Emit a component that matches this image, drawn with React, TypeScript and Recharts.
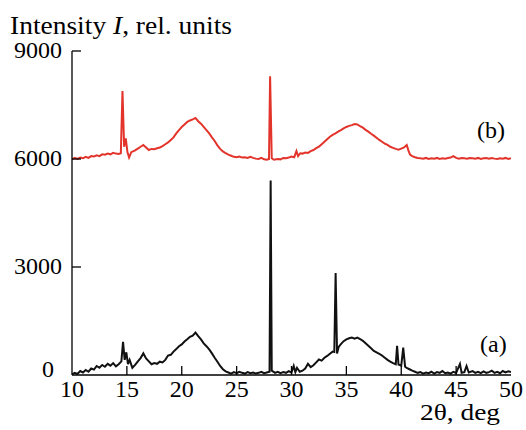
import { LineChart, Line, XAxis, YAxis } from 'recharts';

// pattern (a) – black, near zero
const twoThetaA = [
  10.0, 10.25, 10.5, 10.75, 11.0, 11.25, 11.5, 11.75, 12.0, 12.25, 12.5, 12.75, 13.0, 13.25, 13.5, 13.75,
  14.0, 14.25, 14.5, 14.65, 14.8, 14.95, 15.1, 15.25, 15.5, 15.75, 16.0, 16.25, 16.5, 16.75, 17.0, 17.25,
  17.5, 17.75, 18.0, 18.25, 18.5, 18.75, 19.0, 19.25, 19.5, 19.75, 20.0, 20.25, 20.5, 20.75, 21.0, 21.25,
  21.5, 21.75, 22.0, 22.25, 22.5, 22.75, 23.0, 23.25, 23.5, 23.75, 24.0, 24.25, 24.5, 24.75, 25.0, 25.25,
  25.5, 25.75, 26.0, 26.25, 26.5, 26.75, 27.0, 27.25, 27.5, 27.75, 28.0, 28.1, 28.2, 28.5, 28.75, 29.0,
  29.25, 29.5, 29.75, 30.0, 30.2, 30.35, 30.5, 30.75, 31.0, 31.25, 31.5, 31.75, 32.0, 32.25, 32.5, 32.75,
  33.0, 33.25, 33.5, 33.75, 33.9, 34.02, 34.15, 34.3, 34.5, 34.75, 35.0, 35.25, 35.5, 35.75, 36.0, 36.25,
  36.5, 36.75, 37.0, 37.25, 37.5, 37.75, 38.0, 38.25, 38.5, 38.75, 39.0, 39.25, 39.5, 39.62, 39.75, 40.0,
  40.18, 40.35, 40.5, 40.75, 41.0, 41.25, 41.5, 41.75, 42.0, 42.25, 42.5, 42.75, 43.0, 43.25, 43.5, 43.75,
  44.0, 44.25, 44.5, 44.75, 45.0, 45.35, 45.5, 45.75, 45.95, 46.15, 46.5, 46.75, 47.0, 47.25, 47.5, 47.75,
  48.0, 48.25, 48.5, 48.75, 49.0, 49.25, 49.5, 49.75, 50.0,
];
const intensityA = [
  20, 60, 30, 110, 70, 140, 90, 180, 150, 250, 200, 280, 230, 310, 260, 330,
  240, 300, 380, 920, 420, 630, 300, 420, 200, 280, 380, 470, 600, 460, 380, 300,
  330, 310, 370, 350, 420, 540, 560, 650, 720, 800, 850, 930, 990, 1060, 1090, 1180,
  1080, 990, 880, 800, 710, 600, 480, 370, 250, 160, 100, 70, 40, 80, 50, 90,
  60, 40, 80, 50, 70, 40, 60, 90, 50, 70, 90, 5400, 120, 60, 90, 50,
  80, 60, 110, 70, 250, 80, 200, 90, 120, 180, 310, 220, 270, 350, 430, 400,
  480, 530, 590, 650, 640, 2830, 600, 780, 860, 940, 990, 1020, 1040, 1010, 1040, 1000,
  950, 880, 810, 740, 670, 630, 590, 540, 480, 420, 370, 330, 300, 810, 290, 260,
  760, 230, 200, 160, 120, 90, 60, 80, 40, 70, 50, 90, 40, 80, 60, 110,
  50, 70, 40, 90, 60, 310, 60, 80, 250, 70, 110, 60, 90, 50, 100, 60,
  80, 120, 60, 90, 50, 110, 70, 100, 80,
];

// pattern (b) – red, around 6000
const twoThetaB = [
  10.0, 10.25, 10.5, 10.75, 11.0, 11.25, 11.5, 11.75, 12.0, 12.25, 12.5, 12.75, 13.0, 13.25, 13.5, 13.75,
  14.0, 14.25, 14.45, 14.6, 14.75, 14.9, 15.05, 15.2, 15.4, 15.75, 16.0, 16.25, 16.5, 16.75, 17.0, 17.25,
  17.5, 17.75, 18.0, 18.25, 18.5, 18.75, 19.0, 19.25, 19.5, 19.75, 20.0, 20.25, 20.5, 20.75, 21.0, 21.25,
  21.5, 21.75, 22.0, 22.25, 22.5, 22.75, 23.0, 23.25, 23.5, 23.75, 24.0, 24.25, 24.5, 24.75, 25.0, 25.25,
  25.5, 25.75, 26.0, 26.25, 26.5, 26.75, 27.0, 27.25, 27.5, 27.75, 27.95, 28.05, 28.2, 28.4, 28.75, 29.0,
  29.25, 29.5, 29.75, 30.0, 30.25, 30.45, 30.6, 30.8, 31.0, 31.25, 31.5, 31.75, 32.0, 32.25, 32.5, 32.75,
  33.0, 33.25, 33.5, 33.75, 34.0, 34.25, 34.5, 34.75, 35.0, 35.25, 35.5, 35.75, 36.0, 36.25, 36.5, 36.75,
  37.0, 37.25, 37.5, 37.75, 38.0, 38.25, 38.5, 38.75, 39.0, 39.25, 39.5, 39.75, 40.0, 40.25, 40.5, 40.65,
  40.8, 41.0, 41.25, 41.5, 41.75, 42.0, 42.25, 42.5, 42.75, 43.0, 43.25, 43.5, 43.75, 44.0, 44.25, 44.5,
  44.75, 45.0, 45.25, 45.5, 45.75, 46.0, 46.25, 46.5, 46.75, 47.0, 47.25, 47.5, 47.75, 48.0, 48.25, 48.5,
  48.75, 49.0, 49.25, 49.5, 49.75, 50.0,
];
const intensityB = [
  5990, 6030, 6000, 6040, 6020, 6060, 6030, 6080, 6070, 6100, 6080, 6130, 6120, 6150, 6130, 6170,
  6150, 6140, 6160, 7890, 6340, 6570, 6190, 6040, 6190, 6240, 6290, 6340, 6390, 6320, 6250, 6280,
  6270, 6300, 6320, 6360, 6410, 6460, 6530, 6600, 6710, 6800, 6890, 6960, 7030, 7070, 7100, 7140,
  7050, 6980, 6890, 6800, 6710, 6600, 6500, 6380, 6280, 6210, 6160, 6120, 6090, 6060, 6050, 6070,
  6040, 6050, 6030, 6060, 6030, 6010, 6000, 6030, 5990, 5980, 6000, 8300, 6020, 5980, 6000, 5990,
  6030, 6020, 6040, 6070, 6050, 6220, 6080, 6160, 6150, 6180, 6170, 6220, 6250, 6300, 6340, 6410,
  6480, 6550, 6620, 6670, 6710, 6760, 6800, 6850, 6890, 6920, 6940, 6970, 6960, 6910, 6870, 6810,
  6760, 6700, 6650, 6590, 6530, 6480, 6430, 6390, 6340, 6310, 6280, 6260, 6290, 6320, 6390, 6240,
  6120, 6080, 6050, 6030, 6020, 6010, 6030, 6000, 6020, 6010, 6030, 6000, 6020, 6010, 6030, 6040,
  6080, 6030, 6010, 6030, 6020, 6010, 6030, 6020, 6010, 6030, 6000, 6020, 6030, 6010, 6030, 6010,
  6000, 6020, 6010, 6030, 6000, 6020,
];

const xTicks = [10, 15, 20, 25, 30, 35, 40, 45, 50];
const yTicks = [0, 3000, 6000, 9000];

const seriesA = twoThetaA.map((x, i) => ({ x, y: intensityA[i] }));
const seriesB = twoThetaB.map((x, i) => ({ x, y: intensityB[i] }));

const FONT = '"Liberation Serif", "DejaVu Serif", serif';

function XTick(props: any) {
  const { x, y, payload } = props;
  const v = payload.value;
  return (
    <g>
      {v !== 10 && v !== 50 && <line x1={x} x2={x} y1={y} y2={y - 9} stroke="#000" strokeWidth={1.3} />}
      <text x={x} y={y + 22} textAnchor="middle" fontFamily={FONT} fontSize={24} fill="#000">
        {v}
      </text>
    </g>
  );
}

function YTick(props: any) {
  const { x, y, payload } = props;
  const v = payload.value;
  return (
    <g>
      {v !== 0 && <line x1={x} x2={x + 9} y1={y} y2={y} stroke="#000" strokeWidth={1.3} />}
      <text x={v === 0 ? x - 18 : x - 10} y={v === 0 ? y + 2 : y + 7} textAnchor="end" fontFamily={FONT} fontSize={24} fill="#000">
        {v}
      </text>
    </g>
  );
}

export default function App() {
  return (
    <div style={{ position: 'relative', width: 526, height: 430 }}>
      <style>{'body { margin: 0; overflow: hidden; }'}</style>
      <LineChart width={526} height={430} margin={{ top: 51, right: 15, left: 12, bottom: 25 }}>
        <XAxis
          type="number"
          dataKey="x"
          domain={[10, 50]}
          ticks={xTicks}
          tickSize={0}
          tickMargin={0}
          tickLine={false}
          tick={<XTick />}
          height={30}
          axisLine={{ stroke: '#000', strokeWidth: 1.3 }}
          allowDataOverflow
        />
        <YAxis
          type="number"
          dataKey="y"
          domain={[0, 9000]}
          ticks={yTicks}
          tickSize={0}
          tickMargin={0}
          tickLine={false}
          tick={<YTick />}
          width={60}
          axisLine={{ stroke: '#000', strokeWidth: 1.3 }}
          allowDataOverflow
        />
        <Line data={seriesA} dataKey="y" stroke="#111" strokeWidth={2} dot={false} isAnimationActive={false} />
        <Line data={seriesB} dataKey="y" stroke="#e3342b" strokeWidth={2} dot={false} isAnimationActive={false} />
      </LineChart>
      <svg width={526} height={430} style={{ position: 'absolute', left: 0, top: 0, pointerEvents: 'none' }}>
        <text x={10} y={34} fontFamily={FONT} fontSize={25} fill="#000" textLength={222} lengthAdjust="spacingAndGlyphs">
          Intensity <tspan fontStyle="italic">I</tspan>, rel. units
        </text>
        <text x={420} y={420} fontFamily={FONT} fontSize={24} fill="#000" textLength={80} lengthAdjust="spacingAndGlyphs">
          2θ, deg
        </text>
        <text x={477} y={138} fontFamily={FONT} fontSize={24} fill="#000">(b)</text>
        <text x={480} y={352} fontFamily={FONT} fontSize={24} fill="#000">(a)</text>
      </svg>
    </div>
  );
}
